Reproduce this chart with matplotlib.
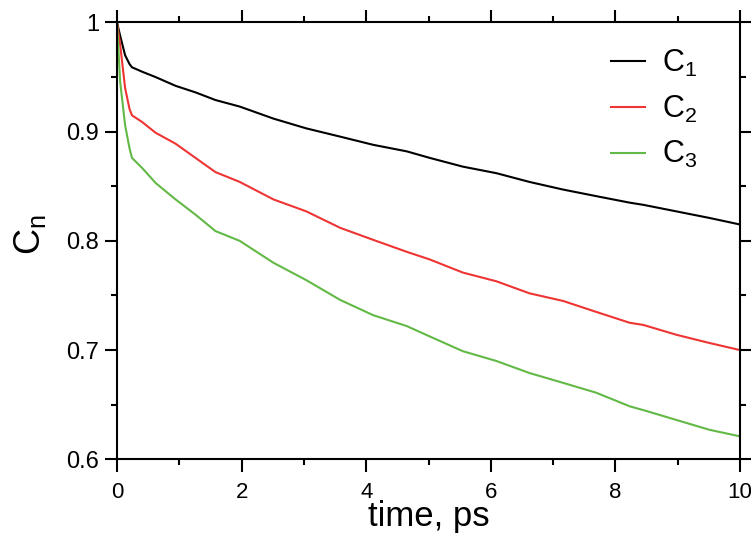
import matplotlib
matplotlib.use("Agg")
import matplotlib.pyplot as plt
import matplotlib.transforms as mtransforms
from matplotlib.ticker import MultipleLocator

plt.rcParams['font.family'] = ['Liberation Sans', 'DejaVu Sans']
plt.rcParams['mathtext.fontset'] = 'custom'
plt.rcParams['mathtext.rm'] = 'Liberation Sans'
plt.rcParams['mathtext.it'] = 'Liberation Sans'

# time, ps
t = [0, 0.05, 0.13, 0.2, 0.24, 0.4, 0.62, 0.94, 1.26, 1.58, 1.97, 2.51, 3.04,
     3.58, 4.11, 4.65, 5.02, 5.55, 6.09, 6.62, 7.16, 7.69, 8.23, 8.45, 8.98,
     9.51, 10.0]

c1 = [1.0, 0.988, 0.970, 0.962, 0.959, 0.955, 0.950, 0.942, 0.936, 0.929,
      0.923, 0.912, 0.903, 0.8955, 0.888, 0.882, 0.876, 0.868, 0.862, 0.854,
      0.847, 0.841, 0.835, 0.833, 0.827, 0.821, 0.815]
c2 = [1.0, 0.98, 0.94, 0.921, 0.915, 0.909, 0.899, 0.889, 0.876, 0.863,
      0.854, 0.838, 0.827, 0.812, 0.801, 0.790, 0.783, 0.771, 0.763, 0.752,
      0.745, 0.735, 0.725, 0.723, 0.714, 0.7065, 0.700]
c3 = [1.0, 0.946, 0.906, 0.885, 0.876, 0.867, 0.853, 0.838, 0.824, 0.809,
      0.800, 0.780, 0.764, 0.746, 0.732, 0.722, 0.7125, 0.699, 0.690, 0.679,
      0.670, 0.661, 0.6485, 0.645, 0.636, 0.627, 0.621]

labels = ['C$_1$', 'C$_2$', 'C$_3$']
colors = ['black', '#ee3533', '#62b946']

fig = plt.figure(figsize=(7.51, 5.42), dpi=100)
ax = fig.add_axes([0.1558, 0.1526, 0.8296, 0.8059])

for y, lab, col in zip([c1, c2, c3], labels, colors):
    ax.plot(t, y, color=col, lw=1.5, label=lab)

ax.set_xlim(0, 10)
ax.set_ylim(0.6, 1.0)
ax.xaxis.set_major_locator(MultipleLocator(2))
ax.xaxis.set_minor_locator(MultipleLocator(1))
ax.yaxis.set_minor_locator(MultipleLocator(0.05))
ax.set_yticks([0.6, 0.7, 0.8, 0.9, 1.0])
ax.set_yticklabels(['0.6', '0.7', '0.8', '0.9', '1'])

for s in ax.spines.values():
    s.set_linewidth(1.5)
ax.tick_params(which='both', direction='out', top=True, right=True, width=1.5)
ax.tick_params(which='major', length=9)
ax.tick_params(which='minor', length=4.5)
ax.tick_params(axis='x', pad=7, labelsize=16)
ax.tick_params(axis='y', pad=4, labelsize=17)

# the "10" sits at the right edge, nudge it in a little
fig.canvas.draw()
last = ax.get_xticklabels()[-1]
last.set_transform(last.get_transform() +
                   mtransforms.ScaledTranslation(-4 / 100, 0, fig.dpi_scale_trans))

ax.set_xlabel('time, ps', fontsize=25, labelpad=-2)
ax.set_ylabel('C$_\\mathrm{n}$', fontsize=26)
ax.yaxis.set_label_coords(-0.11, 0.515)

ax.legend(loc='upper right', bbox_to_anchor=(0.975, 1.005), frameon=False,
          fontsize=22, handlelength=1.1, handletextpad=0.55,
          labelspacing=0.48)

fig.savefig('out.png', dpi=100)
